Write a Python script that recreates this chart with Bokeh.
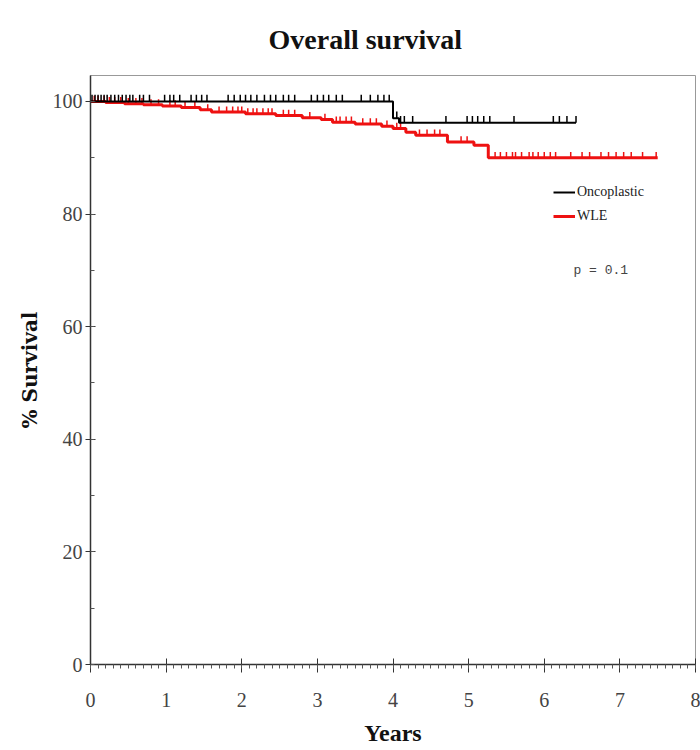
import numpy as np
from bokeh.plotting import figure
from bokeh.models import (Range1d, SingleIntervalTicker, Legend, LegendItem, Label)
from bokeh.embed import file_html
from bokeh.resources import INLINE

# ---- data ----
onco_time = [0.0, 4.0, 4.08, 6.42]
onco_surv = [100.0, 97.0, 96.2, 96.2]
onco_censor = [0.02, 0.06, 0.1, 0.14, 0.18, 0.22, 0.27, 0.32, 0.37, 0.42, 0.47, 0.52, 0.56,
               0.65, 0.7, 0.78, 0.98, 1.05, 1.1, 1.18, 1.33, 1.4, 1.47, 1.54, 1.82, 1.9,
               1.98, 2.05, 2.12, 2.2, 2.3, 2.38, 2.45, 2.55, 2.62, 2.7, 2.92, 3.0, 3.08,
               3.15, 3.25, 3.33, 3.58, 3.7, 3.8, 3.88, 3.95, 4.05, 4.1, 4.15, 4.26, 4.7,
               4.98, 5.05, 5.12, 5.2, 5.28, 5.6, 6.12, 6.2, 6.3, 6.42]

wle_time = [0.0, 0.2, 0.45, 0.7, 0.95, 1.2, 1.45, 1.6, 2.05, 2.45, 2.8, 3.05, 3.2, 3.5,
            3.85, 4.0, 4.17, 4.3, 4.72, 5.07, 5.26, 7.5]
wle_surv = [100.0, 99.8, 99.6, 99.4, 99.2, 98.9, 98.5, 98.1, 97.8, 97.5, 97.1, 96.8, 96.3,
            96.0, 95.6, 95.2, 94.5, 94.0, 92.8, 92.2, 90.0, 90.0]
wle_censor = [0.05, 0.1, 0.18, 0.25, 0.32, 0.4, 0.5, 0.6, 0.68, 0.8, 0.9, 1.05, 1.12, 1.25,
              1.38, 1.55, 1.7, 1.8, 1.88, 1.95, 2.0, 2.08, 2.15, 2.2, 2.28, 2.35, 2.4, 2.55,
              2.62, 2.7, 2.9, 3.1, 3.25, 3.3, 3.38, 3.45, 3.6, 3.7, 3.78, 3.92, 4.05, 4.1,
              4.35, 4.45, 4.55, 4.62, 4.9, 4.98, 5.35, 5.42, 5.5, 5.58, 5.62, 5.7, 5.8,
              5.85, 5.92, 6.0, 6.08, 6.15, 6.35, 6.5, 6.6, 6.75, 6.85, 6.95, 7.05, 7.15,
              7.3, 7.48]

series_labels = ["Oncoplastic", "WLE"]
p_value_text = "p = 0.1"
title_text = "Overall survival"
x_label = "Years"
y_label = "% Survival"
TICK_H = 1.0  # censor tick height in % units


def surv_at(times, survs, t):
    idx = np.searchsorted(np.asarray(times), np.asarray(t), side="right") - 1
    return np.asarray(survs)[idx]


p = figure(width=700, height=750, output_backend="svg", toolbar_location=None,
           x_range=Range1d(0, 8), y_range=Range1d(0, 104.6),
           min_border_left=90, min_border_right=5, min_border_top=75, min_border_bottom=86)

p.title.text = title_text
p.title.align = "left"
p.title.offset = 178
p.title.standoff = 42
p.title.text_font = "Liberation Serif"
p.title.text_font_style = "bold"
p.title.text_font_size = "28px"
p.title.text_color = "#111111"

p.grid.visible = False
p.outline_line_color = "#999999"
p.outline_line_width = 1
p.background_fill_color = "white"
p.border_fill_color = "white"

# axes
p.xaxis.ticker = SingleIntervalTicker(interval=1, num_minor_ticks=10)
p.yaxis.ticker = SingleIntervalTicker(interval=20, num_minor_ticks=2)
for ax in (p.xaxis, p.yaxis):
    ax.axis_line_color = "#333333"
    ax.axis_line_width = 1.5
    ax.major_tick_line_color = "#333333"
    ax.minor_tick_line_color = "#555555"
    ax.major_label_text_font = "Liberation Serif"
    ax.major_label_text_font_size = "20px"
    ax.major_label_text_color = "#444444"
    ax.axis_label_text_font_style = "bold"
    ax.axis_label_text_color = "#111111"

p.xaxis.major_tick_in = 6
p.xaxis.major_tick_out = 8
p.xaxis.minor_tick_in = 0
p.xaxis.minor_tick_out = 4
p.xaxis.major_label_standoff = 20
p.xaxis.axis_label = x_label
p.xaxis.axis_label_text_font = "Liberation Serif"
p.xaxis.axis_label_text_font_size = "24px"
p.xaxis.axis_label_standoff = 10

p.yaxis.major_tick_in = 5
p.yaxis.major_tick_out = 5
p.yaxis.minor_tick_in = 4
p.yaxis.minor_tick_out = 0
p.yaxis.major_label_standoff = 3
p.yaxis.axis_label = y_label
p.yaxis.axis_label_text_font = "DejaVu Serif"
p.yaxis.axis_label_text_font_size = "20px"
p.yaxis.axis_label_standoff = 8

# WLE curve (drawn first, underneath)
red = "#ee1111"
r_wle = p.step(wle_time, wle_surv, mode="after", line_color=red, line_width=3)
wc = np.array(wle_censor)
wy = surv_at(wle_time, wle_surv, wc)
p.segment(x0=wc, y0=wy, x1=wc, y1=wy + TICK_H, line_color=red, line_width=1.5)

# Oncoplastic curve
r_onc = p.step(onco_time, onco_surv, mode="after", line_color="black", line_width=2)
oc = np.array(onco_censor)
oy = surv_at(onco_time, onco_surv, oc)
p.segment(x0=oc, y0=oy, x1=oc, y1=oy + TICK_H * 1.2, line_color="black", line_width=1.5)

legend = Legend(items=[LegendItem(label=series_labels[0], renderers=[r_onc]),
                       LegendItem(label=series_labels[1], renderers=[r_wle])],
                location=(463, 438), orientation="vertical",
                glyph_width=22, glyph_height=20, label_height=20, spacing=4,
                padding=0, margin=0, label_standoff=2,
                border_line_color=None, background_fill_alpha=0,
                label_text_font="Liberation Serif", label_text_font_size="14px",
                label_text_color="#222222")
p.add_layout(legend)

p.add_layout(Label(x=483, y=387, x_units="screen", y_units="screen", text=p_value_text,
                   text_font="Liberation Mono", text_font_size="13px",
                   text_color="#444444"))

open("out.html", "w").write(file_html(p, INLINE))
